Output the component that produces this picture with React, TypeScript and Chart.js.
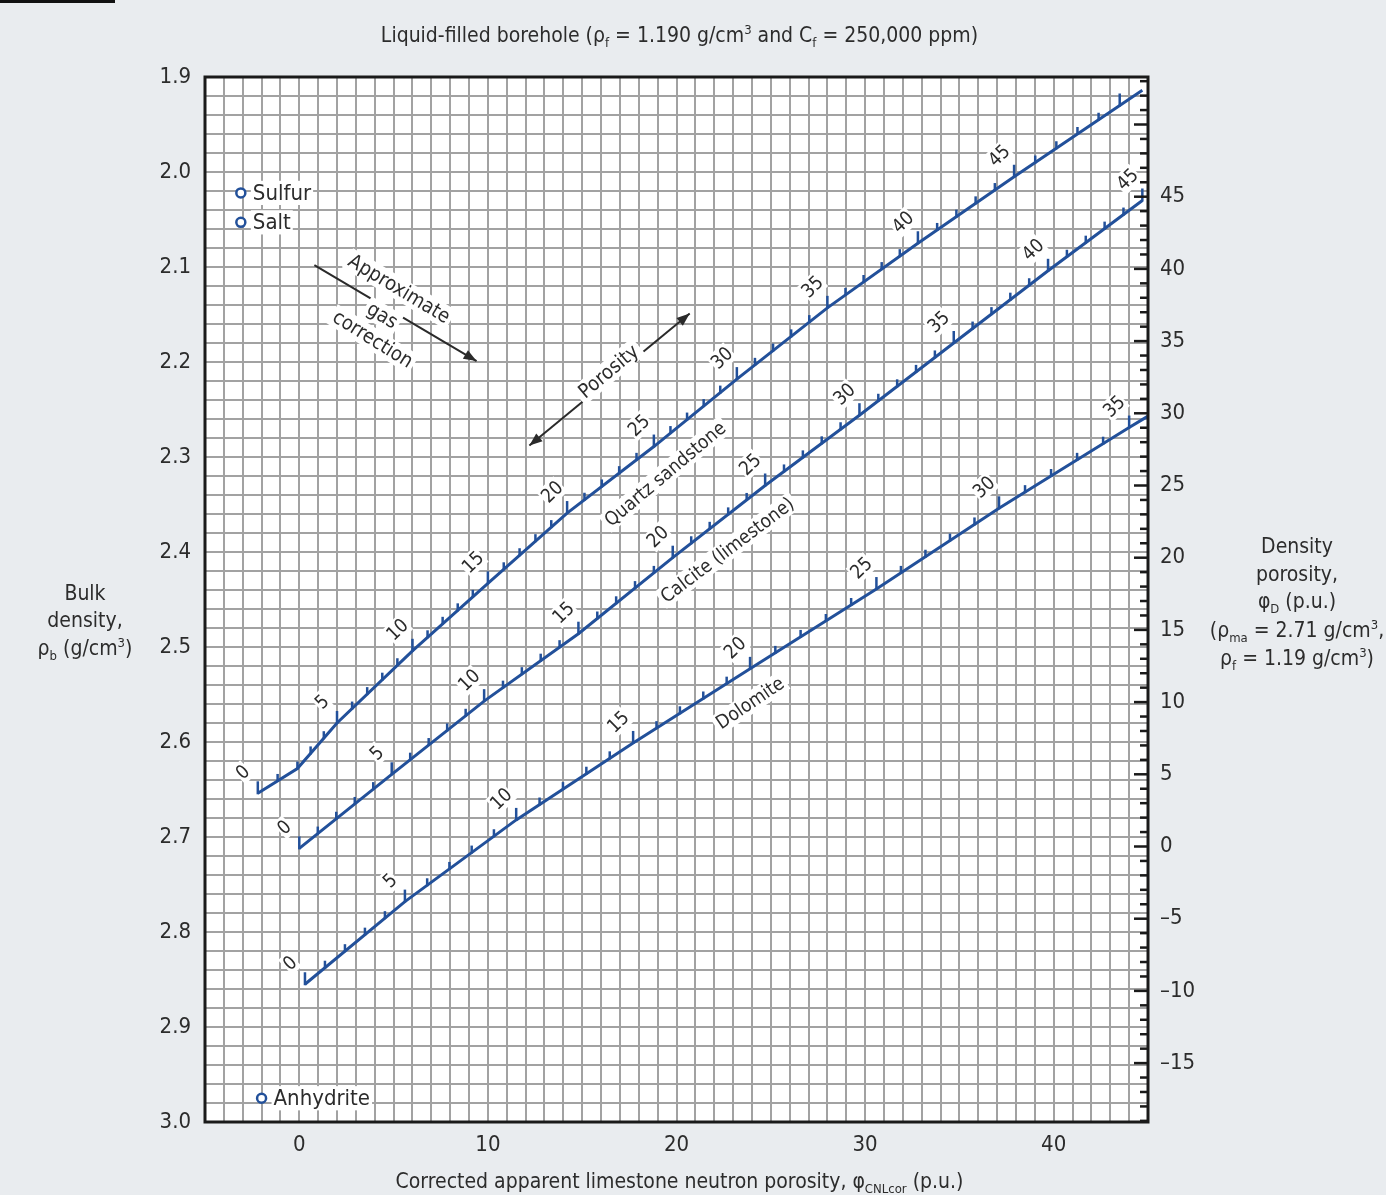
import { useEffect, useRef } from 'react';
import { Chart, registerables } from 'chart.js';

Chart.register(...registerables);

// ---------------- axes ----------------
const NEUTRON_MIN = -5;
const NEUTRON_MAX = 45;
const DENSITY_TOP = 1.9;
const DENSITY_BOTTOM = 3.0;
const RHO_MA = 2.71;
const RHO_F = 1.19;
const neutronTickLabels = [0, 10, 20, 30, 40];
const densityPorosityLabels = [-15, -10, -5, 0, 5, 10, 15, 20, 25, 30, 35, 40, 45];

// ---------------- lithology lines (neutron p.u., bulk density g/cm3, true porosity p.u.) ----------------
const sandstoneNeutron = [-2.2, -0.1, 2.0, 6.0, 10.0, 14.2, 18.8, 23.2, 28.0, 32.8, 37.9, 43.5, 44.7];
const sandstoneDensity = [2.654, 2.628, 2.580, 2.504, 2.433, 2.359, 2.289, 2.218, 2.143, 2.075, 2.005, 1.930, 1.914];
const sandstonePorosity = [0, 2, 5, 10, 15, 20, 25, 30, 35, 40, 45, 50, 50.9];

const limestoneNeutron = [0, 4.9, 9.8, 14.8, 19.8, 24.7, 29.7, 34.7, 39.7, 44.7];
const limestoneDensity = [2.712, 2.634, 2.557, 2.486, 2.406, 2.330, 2.256, 2.180, 2.104, 2.030];
const limestonePorosity = [0, 5, 10, 15, 20, 25, 30, 35, 40, 45];

const dolomiteNeutron = [0.3, 5.6, 11.5, 17.7, 23.9, 30.6, 37.1, 44.0, 45.0];
const dolomiteDensity = [2.855, 2.768, 2.682, 2.601, 2.523, 2.439, 2.354, 2.269, 2.257];
const dolomitePorosity = [0, 5, 10, 15, 20, 25, 30, 35, 35.8];

// ---------------- minerals ----------------
const mineralNames = ['Sulfur', 'Salt', 'Anhydrite'];
const mineralNeutron = [-3.1, -3.1, -2.0];
const mineralDensity = [2.022, 2.053, 2.975];

const FONT = "'Liberation Sans Narrow','DejaVu Sans Condensed','Arial Narrow',sans-serif";
const BLUE = '#22509a';
const TEXT = '#2c2c2c';

type Seg = { t: string; sub?: boolean; sup?: boolean };

function drawRich(ctx: CanvasRenderingContext2D, segs: Seg[], x: number, y: number, size: number, align: string) {
  const big = `${size}px ${FONT}`;
  const small = `${Math.round(size * 0.62)}px ${FONT}`;
  let w = 0;
  const widths = segs.map((s) => {
    ctx.font = s.sub || s.sup ? small : big;
    const m = ctx.measureText(s.t).width;
    w += m;
    return m;
  });
  let cx = align === 'center' ? x - w / 2 : align === 'right' ? x - w : x;
  ctx.textBaseline = 'middle';
  ctx.textAlign = 'left';
  ctx.fillStyle = TEXT;
  segs.forEach((s, i) => {
    ctx.font = s.sub || s.sup ? small : big;
    const dy = s.sub ? size * 0.3 : s.sup ? -size * 0.3 : 0;
    ctx.fillText(s.t, cx, y + dy);
    cx += widths[i];
  });
}

function boxedText(ctx: CanvasRenderingContext2D, text: string, x: number, y: number, deg: number, size: number, pad = 2, align = 'center') {
  ctx.save();
  ctx.translate(x, y);
  ctx.rotate((deg * Math.PI) / 180);
  ctx.font = `${size}px ${FONT}`;
  const w = ctx.measureText(text).width;
  const x0 = align === 'left' ? 0 : -w / 2;
  ctx.fillStyle = '#ffffff';
  ctx.fillRect(x0 - pad, -size * 0.55, w + 2 * pad, size * 1.1);
  ctx.fillStyle = TEXT;
  ctx.textAlign = 'left';
  ctx.textBaseline = 'middle';
  ctx.fillText(text, x0, 1);
  ctx.restore();
}

function arrowHead(ctx: CanvasRenderingContext2D, x1: number, y1: number, x2: number, y2: number) {
  const a = Math.atan2(y2 - y1, x2 - x1);
  const L = 13;
  const W = 5;
  ctx.beginPath();
  ctx.moveTo(x2, y2);
  ctx.lineTo(x2 - L * Math.cos(a) + W * Math.sin(a), y2 - L * Math.sin(a) - W * Math.cos(a));
  ctx.lineTo(x2 - L * Math.cos(a) - W * Math.sin(a), y2 - L * Math.sin(a) + W * Math.cos(a));
  ctx.closePath();
  ctx.fill();
}

const lithologies = [
  { name: 'Quartz sandstone', neutron: sandstoneNeutron, density: sandstoneDensity, porosity: sandstonePorosity, tickMax: 50, labelMax: 45 },
  { name: 'Calcite (limestone)', neutron: limestoneNeutron, density: limestoneDensity, porosity: limestonePorosity, tickMax: 45, labelMax: 45 },
  { name: 'Dolomite', neutron: dolomiteNeutron, density: dolomiteDensity, porosity: dolomitePorosity, tickMax: 35, labelMax: 35 },
];

// annotation anchors in data coordinates (neutron, density)
const lineNames = [
  { text: 'Quartz sandstone', x: 19.4, y: 2.318, deg: -40 },
  { text: 'Calcite (limestone)', x: 22.7, y: 2.398, deg: -37 },
  { text: 'Dolomite', x: 23.9, y: 2.559, deg: -34 },
];

const overlayPlugin = {
  id: 'overlay',
  beforeDraw(chart: any) {
    const { ctx, chartArea: a } = chart;
    ctx.save();
    ctx.fillStyle = '#ffffff';
    ctx.fillRect(a.left, a.top, a.right - a.left, a.bottom - a.top);
    ctx.restore();
  },
  afterDatasetsDraw(chart: any) {
    const { ctx, chartArea: a } = chart;
    const sx = chart.scales.x;
    const sy = chart.scales.y;
    const s2 = chart.scales.y2;
    const px = (v: number) => sx.getPixelForValue(v);
    const py = (v: number) => sy.getPixelForValue(v);
    ctx.save();

    // gas correction arrow and porosity double arrow
    ctx.strokeStyle = '#2a2a2a';
    ctx.fillStyle = '#2a2a2a';
    ctx.lineWidth = 2;
    const g1 = [px(0.8), py(2.098)];
    const g2 = [px(9.4), py(2.199)];
    ctx.beginPath();
    ctx.moveTo(g1[0], g1[1]);
    ctx.lineTo(g2[0], g2[1]);
    ctx.stroke();
    arrowHead(ctx, g1[0], g1[1], g2[0], g2[1]);
    const p1 = [px(12.2), py(2.288)];
    const p2 = [px(20.7), py(2.149)];
    ctx.beginPath();
    ctx.moveTo(p1[0], p1[1]);
    ctx.lineTo(p2[0], p2[1]);
    ctx.stroke();
    arrowHead(ctx, p1[0], p1[1], p2[0], p2[1]);
    arrowHead(ctx, p2[0], p2[1], p1[0], p1[1]);
    boxedText(ctx, 'Approximate', px(5.3), py(2.123), 31, 20, 3);
    boxedText(ctx, 'gas', px(4.4), py(2.151), 31, 20, 3);
    boxedText(ctx, 'correction', px(3.9), py(2.176), 32, 20, 3);
    boxedText(ctx, 'Porosity', px(16.4), py(2.210), -40, 20, 4);

    // lithology ticks and labels
    lithologies.forEach((l) => {
      for (let p = 0; p <= l.tickMax; p++) {
        let i = 0;
        while (i < l.porosity.length - 2 && p > l.porosity[i + 1]) i++;
        const t = (p - l.porosity[i]) / (l.porosity[i + 1] - l.porosity[i]);
        const xv = l.neutron[i] + t * (l.neutron[i + 1] - l.neutron[i]);
        const yv = l.density[i] + t * (l.density[i + 1] - l.density[i]);
        const X = px(xv);
        const Y = py(yv);
        const major = p % 5 === 0;
        ctx.strokeStyle = BLUE;
        ctx.lineWidth = 2.5;
        ctx.beginPath();
        ctx.moveTo(X, Y + 1);
        ctx.lineTo(X, Y - (major ? 12 : 7));
        ctx.stroke();
        if (major && p <= l.labelMax) {
          boxedText(ctx, String(p), X - 15, Y - 21, -44, 19, 1);
        }
      }
    });
    lineNames.forEach((n) => boxedText(ctx, n.text, px(n.x), py(n.y), n.deg, 19, 3));

    // mineral labels
    mineralNames.forEach((m, i) => {
      boxedText(ctx, m, px(mineralNeutron[i]) + 12, py(mineralDensity[i]), 0, 22, 2, 'left');
    });

    // right-axis ticks (inside)
    ctx.strokeStyle = '#1a1a1a';
    ctx.lineWidth = 2.5;
    for (let v = Math.ceil(s2.min); v <= Math.floor(s2.max); v++) {
      const Y = s2.getPixelForValue(v);
      const len = v % 5 === 0 ? 14 : 8;
      ctx.beginPath();
      ctx.moveTo(a.right, Y);
      ctx.lineTo(a.right - len, Y);
      ctx.stroke();
    }

    // frame
    ctx.strokeStyle = '#1a1a1a';
    ctx.lineWidth = 3;
    ctx.strokeRect(a.left, a.top, a.right - a.left, a.bottom - a.top);
    ctx.restore();
  },
  afterDraw(chart: any) {
    const { ctx, chartArea: a } = chart;
    ctx.save();
    const cx = (a.left + a.right) / 2;
    drawRich(ctx, [
      { t: 'Liquid-filled borehole (ρ' }, { t: 'f', sub: true }, { t: ' = 1.190 g/cm' }, { t: '3', sup: true },
      { t: ' and C' }, { t: 'f', sub: true }, { t: ' = 250,000 ppm)' },
    ], cx + 3, a.top - 40, 21, 'center');
    drawRich(ctx, [
      { t: 'Corrected apparent limestone neutron porosity, φ' }, { t: 'CNLcor', sub: true }, { t: ' (p.u.)' },
    ], cx + 3, a.bottom + 61, 21, 'center');
    const lx = 85;
    drawRich(ctx, [{ t: 'Bulk' }], lx, 595, 21, 'center');
    drawRich(ctx, [{ t: 'density,' }], lx, 622, 21, 'center');
    drawRich(ctx, [{ t: 'ρ' }, { t: 'b', sub: true }, { t: ' (g/cm' }, { t: '3', sup: true }, { t: ')' }], lx, 650, 21, 'center');
    const rx = 1297;
    drawRich(ctx, [{ t: 'Density' }], rx, 548, 21, 'center');
    drawRich(ctx, [{ t: 'porosity,' }], rx, 576, 21, 'center');
    drawRich(ctx, [{ t: 'φ' }, { t: 'D', sub: true }, { t: ' (p.u.)' }], rx, 603, 21, 'center');
    drawRich(ctx, [{ t: '(ρ' }, { t: 'ma', sub: true }, { t: ' = 2.71 g/cm' }, { t: '3', sup: true }, { t: ',' }], rx, 632, 21, 'center');
    drawRich(ctx, [{ t: 'ρ' }, { t: 'f', sub: true }, { t: ' = 1.19 g/cm' }, { t: '3', sup: true }, { t: ')' }], rx, 660, 21, 'center');
    ctx.restore();
  },
};

export default function App() {
  const ref = useRef<HTMLCanvasElement | null>(null);
  useEffect(() => {
    document.body.style.margin = '0';
    const canvas = ref.current;
    if (!canvas) return;
    const datasets: any[] = lithologies.map((l) => ({
      label: l.name,
      data: l.neutron.map((x, i) => ({ x, y: l.density[i] })),
      showLine: true,
      borderColor: BLUE,
      borderWidth: 3,
      pointRadius: 0,
      tension: 0,
      yAxisID: 'y',
    }));
    mineralNames.forEach((m, i) => {
      datasets.push({
        label: m,
        data: [{ x: mineralNeutron[i], y: mineralDensity[i] }],
        showLine: false,
        pointRadius: 4.5,
        pointBorderWidth: 2.5,
        pointBackgroundColor: '#ffffff',
        pointBorderColor: BLUE,
        yAxisID: 'y',
      });
    });
    const tickFont = { family: FONT, size: 22 };
    const chart = new Chart(canvas, {
      type: 'scatter',
      data: { datasets },
      options: {
        animation: false,
        responsive: false,
        devicePixelRatio: 1,
        layout: { padding: { top: 77, left: 0, right: 0, bottom: 0 } },
        plugins: { legend: { display: false }, tooltip: { enabled: false }, title: { display: false } },
        scales: {
          x: {
            type: 'linear',
            min: NEUTRON_MIN,
            max: NEUTRON_MAX,
            afterBuildTicks: (s: any) => {
              const t = [];
              for (let v = NEUTRON_MIN; v <= NEUTRON_MAX; v++) t.push({ value: v });
              s.ticks = t;
            },
            afterFit: (s: any) => { s.height = 73; },
            ticks: {
              autoSkip: false,
              maxRotation: 0,
              padding: 10,
              color: TEXT,
              font: tickFont,
              callback: (v: any) => (neutronTickLabels.includes(Number(v)) ? String(v) : ''),
            },
            grid: { color: '#a2a2a2', lineWidth: 2, drawTicks: false },
            border: { display: false },
          },
          y: {
            type: 'linear',
            position: 'left',
            reverse: true,
            min: DENSITY_TOP,
            max: DENSITY_BOTTOM,
            afterBuildTicks: (s: any) => {
              const t = [];
              for (let i = 0; i <= 55; i++) t.push({ value: Math.round((DENSITY_TOP + i * 0.02) * 100) / 100 });
              s.ticks = t;
            },
            afterFit: (s: any) => { s.width = 205; },
            ticks: {
              autoSkip: false,
              padding: 14,
              color: TEXT,
              font: tickFont,
              callback: (v: any) => {
                const n = Number(v);
                return Math.abs(n * 10 - Math.round(n * 10)) < 1e-6 ? n.toFixed(1) : '';
              },
            },
            grid: { color: '#a2a2a2', lineWidth: 2, drawTicks: false },
            border: { display: false },
          },
          y2: {
            type: 'linear',
            position: 'right',
            min: ((RHO_MA - DENSITY_BOTTOM) / (RHO_MA - RHO_F)) * 100,
            max: ((RHO_MA - DENSITY_TOP) / (RHO_MA - RHO_F)) * 100,
            afterBuildTicks: (s: any) => { s.ticks = densityPorosityLabels.map((v) => ({ value: v })); },
            afterFit: (s: any) => { s.width = 238; },
            ticks: {
              autoSkip: false,
              padding: 12,
              color: TEXT,
              font: tickFont,
              callback: (v: any) => (Number(v) < 0 ? '\u2013' + Math.abs(Number(v)) : String(v)),
            },
            grid: { drawOnChartArea: false, drawTicks: false },
            border: { display: false },
          },
        },
      } as any,
      plugins: [overlayPlugin],
    });
    return () => chart.destroy();
  }, []);
  return (
    <div style={{ position: 'absolute', left: 0, top: 0, width: 1386, height: 1195, background: '#e9ecef', overflow: 'hidden' }}>
      <div style={{ position: 'absolute', left: 0, top: 0, width: 115, height: 3, background: '#111' }} />
      <canvas ref={ref} width={1386} height={1195} style={{ display: 'block' }} />
    </div>
  );
}
